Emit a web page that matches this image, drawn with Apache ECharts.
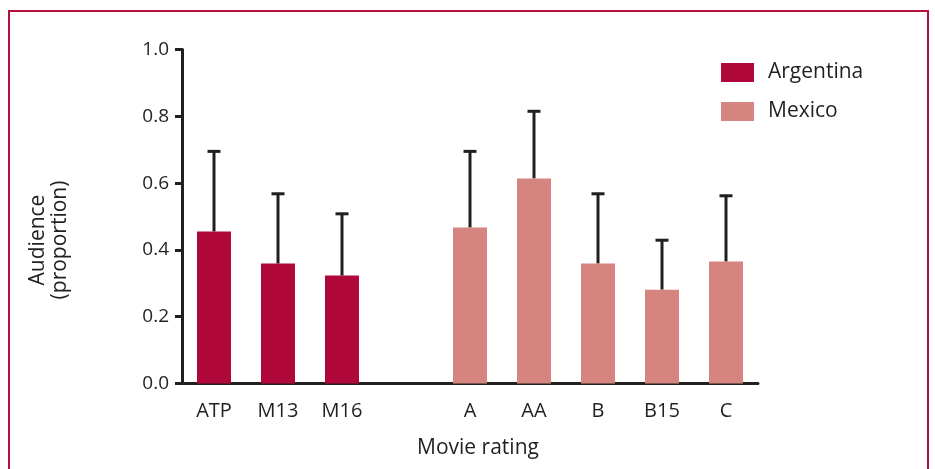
<!DOCTYPE html>
<html>
<head>
<meta charset="utf-8">
<script src="https://cdn.jsdelivr.net/npm/echarts@6/dist/echarts.min.js"></script>
<style>
  html, body { margin: 0; padding: 0; background: #fff; }
  #chart { width: 935px; height: 469px; }
</style>
</head>
<body>
<div id="chart"></div>
<script>
// Rating categories; the empty slot separates the two countries.
const categories = ['ATP', 'M13', 'M16', '', 'A', 'AA', 'B', 'B15', 'C'];
// Mean audience proportion per rating
const argentinaMeans = [0.455, 0.359, 0.323, null, null, null, null, null, null];
const mexicoMeans    = [null, null, null, null, 0.467, 0.614, 0.359, 0.281, 0.365];
// Upper end of the error bar (mean + SD)
const argentinaUpper = [0.698, 0.571, 0.511, null, null, null, null, null, null];
const mexicoUpper    = [null, null, null, null, 0.698, 0.818, 0.571, 0.432, 0.565];
const yTicks = [0, 0.2, 0.4, 0.6, 0.8, 1.0];

const INK = '#231f20';
const FONT = '"Open Sans", "Noto Sans", sans-serif';

function errorData(means, upper) {
  const out = [];
  means.forEach((m, i) => { if (m != null) out.push([i, m, upper[i]]); });
  return out;
}
const errData = errorData(argentinaMeans, argentinaUpper).concat(errorData(mexicoMeans, mexicoUpper));

const chart = echarts.init(document.getElementById('chart'), null, { renderer: 'canvas' });
chart.setOption({
  animation: false,
  grid: { left: 182, right: 177, top: 49.5, bottom: 85.5, containLabel: false },
  legend: {
    orient: 'vertical',
    left: 721,
    top: 62,
    padding: 0,
    icon: 'rect',
    itemWidth: 33,
    itemHeight: 19,
    itemGap: 18,
    data: ['Argentina', 'Mexico'],
    textStyle: { fontFamily: FONT, fontSize: 21, color: INK, lineHeight: 21, padding: [0, 0, 0, 9] }
  },
  xAxis: {
    type: 'category',
    data: categories,
    name: 'Movie rating',
    nameLocation: 'middle',
    nameGap: 54,
    nameTextStyle: { fontFamily: FONT, fontSize: 21, color: INK, padding: [0, 0, 0, 16] },
    axisLine: { lineStyle: { color: INK, width: 3 } },
    axisTick: {
      alignWithLabel: true,
      length: 8,
      lineStyle: { color: INK, width: 3 },
      interval: (idx, val) => val !== ''
    },
    axisLabel: { fontFamily: FONT, fontSize: 20, color: INK, margin: 18, interval: 0 }
  },
  yAxis: {
    type: 'value',
    min: 0,
    max: 1,
    interval: 0.2,
    splitLine: { show: false },
    axisLine: { show: true, lineStyle: { color: INK, width: 3 } },
    axisTick: { show: true, length: 7, lineStyle: { color: INK, width: 3 } },
    axisLabel: {
      fontFamily: FONT, fontSize: 19, color: INK, margin: 13,
      formatter: v => yTicks.indexOf(Math.round(v * 10) / 10) >= 0 ? v.toFixed(1) : ''
    }
  },
  graphic: [
    {
      type: 'rect',
      shape: { x: 9, y: 11, width: 919, height: 470 },
      style: { fill: 'none', stroke: '#b5103c', lineWidth: 2 },
      silent: true
    },
    {
      type: 'text',
      x: 49, y: 240, rotation: Math.PI / 2,
      style: {
        text: 'Audience\n(proportion)', fontFamily: FONT, fontSize: 21, fill: INK,
        align: 'center', verticalAlign: 'middle', lineHeight: 22
      }
    }
  ],
  series: [
    {
      name: 'Argentina',
      type: 'bar',
      data: argentinaMeans,
      barWidth: 34,
      barGap: '-100%',
      itemStyle: { color: '#b0073a' }
    },
    {
      name: 'Mexico',
      type: 'bar',
      data: mexicoMeans,
      barWidth: 34,
      barGap: '-100%',
      itemStyle: { color: '#d58480' }
    },
    {
      type: 'custom',
      data: errData,
      z: 1,
      renderItem: function (params, api) {
        const base = api.coord([api.value(0), api.value(1)]);
        const top = api.coord([api.value(0), api.value(2)]);
        const half = 6.5;
        const st = { stroke: INK, lineWidth: 3 };
        return {
          type: 'group',
          children: [
            { type: 'line', shape: { x1: base[0], y1: base[1], x2: top[0], y2: top[1] }, style: st },
            { type: 'line', shape: { x1: top[0] - half, y1: top[1] + 1, x2: top[0] + half, y2: top[1] + 1 }, style: st }
          ]
        };
      }
    }
  ]
});
</script>
</body>
</html>
